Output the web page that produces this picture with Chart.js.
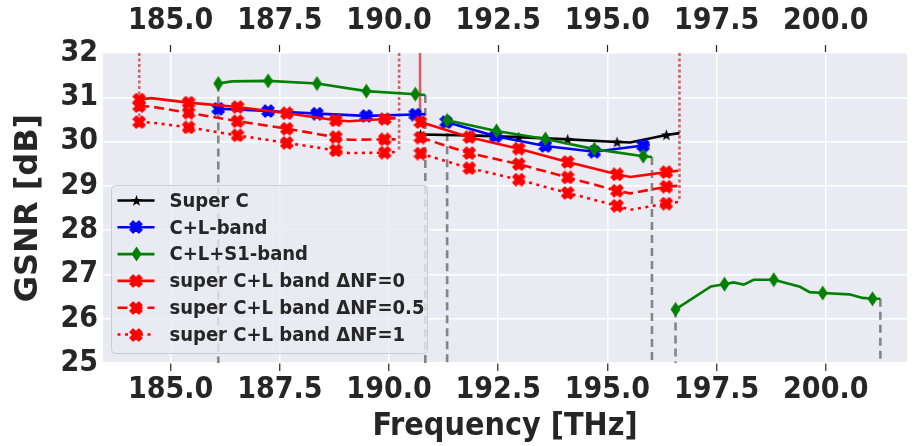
<!DOCTYPE html>
<html>
<head>
<meta charset="utf-8">
<script src="https://cdn.jsdelivr.net/npm/chart.js@4.4.0/dist/chart.umd.min.js"></script>
<style>
html, body { margin: 0; padding: 0; background: #fff; }
</style>
</head>
<body>
<canvas id="gsnr" width="915" height="446"></canvas>
<script>
const FONT = "'DejaVu Sans Condensed', 'DejaVu Sans', sans-serif"
const INK = '#262626'

// axes
const xTicks = [185.0, 187.5, 190.0, 192.5, 195.0, 197.5, 200.0]
const yTicks = [25, 26, 27, 28, 29, 30, 31, 32]
const xMin = 183.45, xMax = 201.86
const yMin = 25, yMax = 32

// Super C (stars)
const superCMarkFreq = [190.72, 191.85, 192.97, 194.09, 195.22, 196.35]
const superCMarkGsnr = [30.16, 30.14, 30.10, 30.05, 29.99, 30.15]
const superCFreq = [190.64, 190.72, 191.85, 192.97, 194.09, 195.22, 195.52, 196.35, 196.65]
const superCGsnr = [30.16, 30.16, 30.14, 30.10, 30.05, 29.99, 29.98, 30.15, 30.19]

// C+L-band
const clMarkFreq = [186.09, 187.23, 188.35, 189.48, 190.60, 191.31, 192.44, 193.58, 194.70, 195.82]
const clMarkGsnr = [30.74, 30.69, 30.63, 30.58, 30.61, 30.44, 30.12, 29.90, 29.77, 29.91]
const clFreq = [186.09, 187.23, 188.35, 189.48, 190.60, 190.83, null, 191.31, 192.44, 193.58, 194.70, 195.82, 195.97]
const clGsnr = [30.74, 30.69, 30.63, 30.58, 30.61, 30.62, null, 30.44, 30.12, 29.90, 29.77, 29.91, 29.92]

// C+L+S1-band
const clsMarkFreq = [186.09, 187.23, 188.35, 189.48, 190.60, 191.33, 192.46, 193.58, 194.70, 195.82, 196.56, 197.68, 198.81, 199.93, 201.07]
const clsMarkGsnr = [31.31, 31.37, 31.31, 31.14, 31.07, 30.48, 30.24, 30.06, 29.83, 29.67, 26.21, 26.78, 26.88, 26.58, 26.45]
const clsFreq = [186.09, 186.40, 187.23, 188.35, 189.48, 190.60, 190.83, null,
  191.33, 192.46, 193.58, 194.70, 195.82, 196.02, null,
  196.56, 197.37, 197.68, 197.89, 198.12, 198.35, 198.81, 199.41, 199.63, 199.93, 200.54, 200.84, 201.07, 201.25]
const clsGsnr = [31.31, 31.36, 31.37, 31.31, 31.14, 31.07, 31.05, null,
  30.48, 30.24, 30.06, 29.83, 29.67, 29.65, null,
  26.21, 26.73, 26.78, 26.82, 26.77, 26.88, 26.88, 26.72, 26.60, 26.58, 26.55, 26.47, 26.45, 26.45]

// super C+L band, three noise-figure offsets
const superMarkFreq = [184.28, 185.41, 186.53, 187.66, 188.78, 189.90, 190.72, 191.84, 192.97, 194.09, 195.22, 196.35]
const nf0Mark = [30.95, 30.88, 30.78, 30.64, 30.48, 30.51, 30.44, 30.10, 29.84, 29.54, 29.26, 29.31]
const nf05Mark = [30.80, 30.65, 30.46, 30.29, 30.10, 30.05, 30.09, 29.74, 29.49, 29.19, 28.89, 28.98]
const nf1Mark = [30.44, 30.32, 30.14, 29.97, 29.80, 29.75, 29.73, 29.40, 29.14, 28.84, 28.55, 28.60]
const superFreq = [184.28, 184.55, 185.41, 186.53, 187.66, 188.78, 189.08, 189.90, 190.15, null,
  190.72, 191.84, 192.97, 194.09, 195.22, 195.52, 196.35, 196.62]
const nf0Gsnr = [30.95, 30.98, 30.88, 30.78, 30.64, 30.48, 30.46, 30.51, 30.53, null,
  30.44, 30.10, 29.84, 29.54, 29.26, 29.20, 29.31, 29.34]
const nf05Gsnr = [30.80, 30.79, 30.65, 30.46, 30.29, 30.10, 30.04, 30.05, 30.05, null,
  30.09, 29.74, 29.49, 29.19, 28.89, 28.83, 28.98, 29.00]
const nf1Freq = [184.28, 184.55, 185.41, 186.53, 187.66, 188.78, 189.08, 189.90, 190.23, null,
  190.72, 191.84, 192.97, 194.09, 195.22, 195.52, 196.35, 196.65]
const nf1Gsnr = [30.44, 30.43, 30.32, 30.14, 29.97, 29.80, 29.74, 29.75, 29.77, null,
  29.73, 29.40, 29.14, 28.84, 28.55, 28.46, 28.60, 28.64]

// band edges
const superEdgeFreq = [184.28, 190.23, 196.65]
const superEdgeLow = [30.44, 29.77, 28.64]
const superSolidEdgeFreq = [190.71]
const superSolidEdgeLow = [30.44]
const clsEdgeFreq = [186.09, 190.83, 191.33, 196.02, 196.56, 201.25]
const clsEdgeHigh = [31.31, 31.05, 30.48, 29.65, 26.21, 26.45]

function pts(xs, ys) {
  return xs.map((x, i) => ({ x: x === null ? xs[i - 1] : x, y: ys[i] }))
}

function marker(shape, color) {
  const c = document.createElement('canvas')
  const g = c.getContext('2d')
  if (shape === 'x') {
    c.width = 14; c.height = 14
    g.translate(7, 7); g.rotate(Math.PI / 4)
    g.fillStyle = color; g.strokeStyle = color; g.lineWidth = 1.2; g.lineJoin = 'round'
    g.beginPath()
    const L = 6.4, t = 2.3
    g.moveTo(-t, -L); g.lineTo(t, -L); g.lineTo(t, -t); g.lineTo(L, -t); g.lineTo(L, t); g.lineTo(t, t)
    g.lineTo(t, L); g.lineTo(-t, L); g.lineTo(-t, t); g.lineTo(-L, t); g.lineTo(-L, -t); g.lineTo(-t, -t)
    g.closePath(); g.fill(); g.stroke()
  } else if (shape === 'star') {
    c.width = 13; c.height = 13
    g.fillStyle = color
    g.beginPath()
    for (let i = 0; i < 10; i++) {
      const r = i % 2 ? 2.4 : 6
      const a = -Math.PI / 2 + i * Math.PI / 5
      g.lineTo(6.5 + r * Math.cos(a), 7 + r * Math.sin(a))
    }
    g.closePath(); g.fill()
  } else {
    c.width = 11; c.height = 16
    g.fillStyle = color
    g.beginPath()
    g.moveTo(5.5, 0.5); g.lineTo(10.5, 8); g.lineTo(5.5, 15.5); g.lineTo(0.5, 8)
    g.closePath(); g.fill()
  }
  return c
}

const starBlack = marker('star', '#000000')
const xBlue = marker('x', '#0000ff')
const diaGreen = marker('diamond', '#008000')
const xRed = marker('x', '#ff0000')

const series = [
  { label: 'Super C', color: '#000000', dash: [], mark: starBlack },
  { label: 'C+L-band', color: '#0000ff', dash: [], mark: xBlue },
  { label: 'C+L+S1-band', color: '#008000', dash: [], mark: diaGreen },
  { label: 'super C+L band \u0394NF=0', color: '#ff0000', dash: [], mark: xRed },
  { label: 'super C+L band \u0394NF=0.5', color: '#ff0000', dash: [10, 5], mark: xRed },
  { label: 'super C+L band \u0394NF=1', color: '#ff0000', dash: [3, 4.5], mark: xRed }
]

function lineSet(data, color, dash, order) {
  return { data: data, showLine: true, borderColor: color, borderWidth: 2.6, borderDash: dash,
    pointRadius: 0, fill: false, order: order }
}

function markSet(data, img, order) {
  return { data: data, showLine: false, pointStyle: img, pointRadius: 7, order: order }
}

// one vertical segment per band edge
function edgeSets(xs, from, to, color, dash) {
  return xs.map((x, i) => lineSet([{ x: x, y: from[i] }, { x: x, y: to[i] }], color, dash, 9))
}

const edgeRed = 'rgba(205,85,90,0.9)'

const datasets = [
  ...edgeSets(clsEdgeFreq, clsEdgeHigh, clsEdgeFreq.map(() => yMin), 'rgba(128,128,128,0.95)', [8, 5]),
  ...edgeSets(superEdgeFreq, superEdgeFreq.map(() => yMax), superEdgeLow, edgeRed, [3, 2.5]),
  ...edgeSets(superSolidEdgeFreq, superSolidEdgeFreq.map(() => yMax), superSolidEdgeLow, edgeRed, []),
  lineSet(pts(superCFreq, superCGsnr), '#000000', [], 8),
  markSet(pts(superCMarkFreq, superCMarkGsnr), starBlack, 7),
  lineSet(pts(clFreq, clGsnr), '#0000ff', [], 6),
  markSet(pts(clMarkFreq, clMarkGsnr), xBlue, 5),
  lineSet(pts(clsFreq, clsGsnr), '#008000', [], 4),
  markSet(pts(clsMarkFreq, clsMarkGsnr), diaGreen, 3),
  lineSet(pts(superFreq, nf0Gsnr), '#ff0000', [], 2),
  lineSet(pts(superFreq, nf05Gsnr), '#ff0000', [10, 5], 2),
  lineSet(pts(nf1Freq, nf1Gsnr), '#ff0000', [3, 4.5], 2),
  markSet(pts(superMarkFreq, nf0Mark), xRed, 1),
  markSet(pts(superMarkFreq, nf05Mark), xRed, 1),
  markSet(pts(superMarkFreq, nf1Mark), xRed, 1)
]

const plotBg = {
  id: 'plotBg',
  beforeDraw(chart) {
    const { ctx, chartArea: a } = chart
    ctx.save()
    ctx.fillStyle = '#eaeaf2'
    ctx.fillRect(a.left, a.top, a.right - a.left, a.bottom - a.top)
    ctx.restore()
  }
}

const legendBox = {
  id: 'legendBox',
  afterDraw(chart) {
    const { ctx, chartArea: a } = chart
    const left = a.left + 8.5, top = a.top + 132.5
    ctx.save()
    ctx.beginPath()
    ctx.roundRect(left, top, 316, 168, 4)
    ctx.fillStyle = 'rgba(234,234,242,0.8)'
    ctx.fill()
    ctx.strokeStyle = 'rgba(204,204,210,1)'
    ctx.lineWidth = 1
    ctx.stroke()
    ctx.font = 'bold 20px ' + FONT
    ctx.textBaseline = 'middle'
    series.forEach((s, i) => {
      const y = top + 15 + i * 26.8
      ctx.strokeStyle = s.color
      ctx.lineWidth = 2.6
      ctx.setLineDash(s.dash)
      ctx.beginPath()
      ctx.moveTo(left + 6, y)
      ctx.lineTo(left + 43, y)
      ctx.stroke()
      ctx.setLineDash([])
      ctx.drawImage(s.mark, Math.round(left + 24.5 - s.mark.width / 2), Math.round(y - s.mark.height / 2))
      ctx.fillStyle = INK
      ctx.fillText(s.label, left + 58, y + 1)
    })
    ctx.restore()
  }
}

const tickFont = { family: FONT, size: 30, weight: 'bold' }
const titleFont = { family: FONT, size: 32, weight: 'bold' }

new Chart(document.getElementById('gsnr'), {
  type: 'scatter',
  data: { datasets: datasets },
  plugins: [plotBg, legendBox],
  options: {
    responsive: false,
    animation: false,
    devicePixelRatio: 1,
    layout: { padding: 0 },
    plugins: { legend: { display: false }, tooltip: { enabled: false } },
    scales: {
      x: {
        type: 'linear', position: 'bottom', min: xMin, max: xMax,
        afterBuildTicks: s => { s.ticks = xTicks.map(v => ({ value: v })) },
        afterFit: s => { s.height = 83 },
        border: { display: false },
        grid: { color: '#ffffff', lineWidth: 1.5, tickColor: INK, tickLength: 8, tickWidth: 1.2 },
        ticks: { font: tickFont, color: INK, padding: 1, maxRotation: 0, autoSkip: false, callback: v => v.toFixed(1) },
        title: { display: true, text: 'Frequency [THz]', font: titleFont, color: INK, padding: { top: 0, bottom: 0 } }
      },
      x2: {
        type: 'linear', position: 'top', min: xMin, max: xMax,
        afterBuildTicks: s => { s.ticks = xTicks.map(v => ({ value: v })) },
        afterFit: s => { s.height = 53 },
        border: { display: false },
        grid: { drawOnChartArea: false, color: INK, tickColor: INK, tickLength: 8, tickWidth: 1.2 },
        ticks: { font: tickFont, color: INK, padding: 6, maxRotation: 0, autoSkip: false, callback: v => v.toFixed(1) }
      },
      y: {
        type: 'linear', position: 'left', min: yMin, max: yMax,
        afterBuildTicks: s => { s.ticks = yTicks.map(v => ({ value: v })) },
        afterFit: s => { s.width = 103 },
        border: { display: false },
        grid: { color: '#ffffff', lineWidth: 1.5, drawTicks: false },
        ticks: { font: tickFont, color: INK, padding: 5 },
        title: { display: true, text: 'GSNR [dB]', font: { family: "'DejaVu Sans', sans-serif", size: 32, weight: 'bold' }, color: INK, padding: { top: 9, bottom: 0 } }
      }
    }
  }
})
</script>
</body>
</html>
